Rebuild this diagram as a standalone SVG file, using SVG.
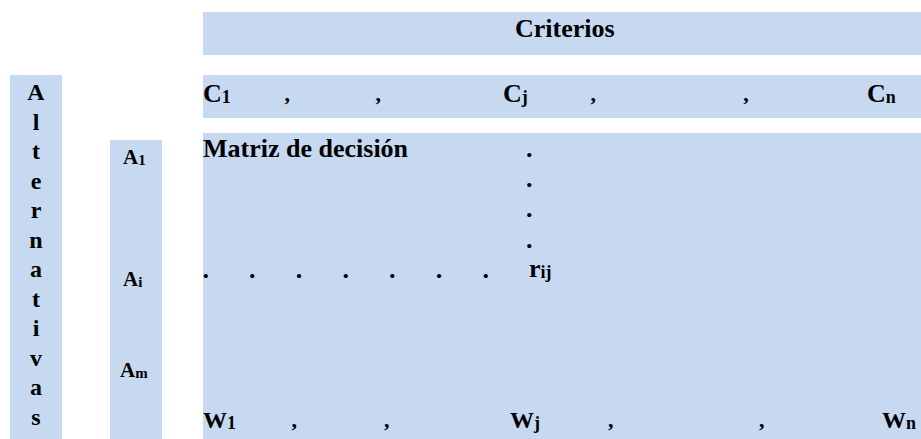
<svg xmlns="http://www.w3.org/2000/svg" width="921" height="439" viewBox="0 0 921 439">
<style>
.box{fill:#C6D9F0;}
.t26{font-size:26px;}
.t24{font-size:24px;}
.t21{font-size:21px;}
.sub{font-size:18px;}
.sub2{font-size:15px;}
.cm{font-size:22px;text-anchor:middle;}
.dot{font-size:26px;text-anchor:middle;}
.col{font-size:24px;text-anchor:middle;}
</style>
<rect width="921" height="439" fill="#FFFFFF"/>
<g font-family="'Liberation Serif', 'Times New Roman', serif" font-weight="bold" fill="#000000">
<g id="criterios">
<rect class="box" x="203" y="12" width="718" height="43"/>
<text class="t26" x="515" y="37">Criterios</text>
</g>
<g id="criterios-row">
<rect class="box" x="203" y="75" width="718" height="43"/>
<text class="t26" x="203" y="102">C<tspan class="sub" dy="1">1</tspan></text>
<text class="cm" x="287.3" y="101">,</text>
<text class="cm" x="378.3" y="101">,</text>
<text class="t26" x="503" y="102">C<tspan class="sub" dy="1">j</tspan></text>
<text class="cm" x="593.3" y="101">,</text>
<text class="cm" x="746" y="101">,</text>
<text class="t26" x="867" y="102">C<tspan class="sub" dy="1">n</tspan></text>
</g>
<g id="alternativas">
<rect class="box" x="10" y="75" width="52" height="364"/>
<text class="col" x="36" y="100">A</text>
<text class="col" x="36" y="129.5">l</text>
<text class="col" x="36" y="159">t</text>
<text class="col" x="36" y="188.5">e</text>
<text class="col" x="36" y="218">r</text>
<text class="col" x="36" y="247.5">n</text>
<text class="col" x="36" y="277">a</text>
<text class="col" x="36" y="306.5">t</text>
<text class="col" x="36" y="336">i</text>
<text class="col" x="36" y="365.5">v</text>
<text class="col" x="36" y="395">a</text>
<text class="col" x="36" y="424.5">s</text>
</g>
<g id="alternativas-col">
<rect class="box" x="110" y="140" width="52" height="299"/>
<text class="t21" x="123" y="164">A<tspan class="sub2" dy="1">1</tspan></text>
<text class="t21" x="123" y="286">A<tspan class="sub2" dy="1">i</tspan></text>
<text class="t21" x="120" y="377">A<tspan class="sub2" dy="1">m</tspan></text>
</g>
<g id="matriz">
<rect class="box" x="203" y="133" width="718" height="306"/>
<text class="t26" x="203" y="157">Matriz de decisión</text>
<text class="dot" x="529.3" y="156.5">.</text>
<text class="dot" x="529.3" y="186.5">.</text>
<text class="dot" x="529.3" y="217">.</text>
<text class="dot" x="529.3" y="248">.</text>
<text class="dot" x="205.7" y="278">.</text>
<text class="dot" x="252.3" y="278">.</text>
<text class="dot" x="299" y="278">.</text>
<text class="dot" x="345.7" y="278">.</text>
<text class="dot" x="392.3" y="278">.</text>
<text class="dot" x="439" y="278">.</text>
<text class="dot" x="485.7" y="278">.</text>
<text class="t26" x="529" y="277">r<tspan class="sub" dy="1">ij</tspan></text>
<text class="t24" x="203" y="428">W<tspan class="sub" dy="1">1</tspan></text>
<text class="cm" x="294.3" y="427">,</text>
<text class="cm" x="386.7" y="427">,</text>
<text class="t24" x="510" y="428">W<tspan class="sub" dy="1">j</tspan></text>
<text class="cm" x="610.7" y="427">,</text>
<text class="cm" x="761.7" y="427">,</text>
<text class="t24" x="882" y="428">W<tspan class="sub" dy="1">n</tspan></text>
</g>
</g>
</svg>
